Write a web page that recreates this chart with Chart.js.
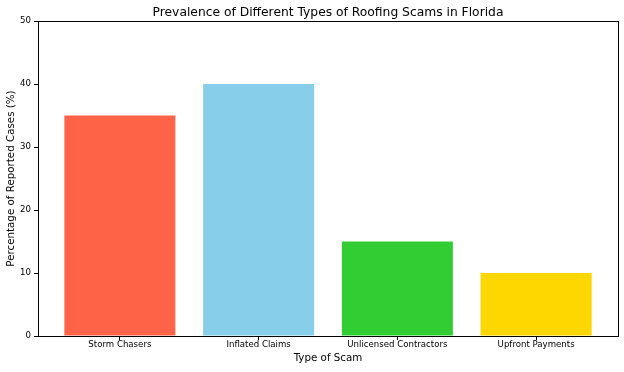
<!DOCTYPE html>
<html>
<head>
<meta charset="utf-8">
<script src="https://cdn.jsdelivr.net/npm/chart.js@4"></script>
<style>
  html, body { margin: 0; padding: 0; background: #fff; }
  #wrap { width: 624px; height: 372px; }
</style>
</head>
<body>
<div id="wrap"><canvas id="chart"></canvas></div>
<script>
// Data
const scamTypes = ["Storm Chasers", "Inflated Claims", "Unlicensed Contractors", "Upfront Payments"];
const percentages = [35, 40, 15, 10];
const barColors = ["#FF6347", "#87CEEB", "#32CD32", "#FFD700"];
const yTicks = [0, 10, 20, 30, 40, 50];

const font = "'DejaVu Sans', sans-serif";

// Draw the box around the plot area, like matplotlib's spines
const framePlugin = {
    id: "frame",
    afterDatasetsDraw(chart) {
        const a = chart.chartArea;
        const ctx = chart.ctx;
        ctx.save();
        ctx.strokeStyle = "#000";
        ctx.lineWidth = 1;
        ctx.strokeRect(Math.round(a.left) + 0.5, Math.round(a.top) + 0.5,
            Math.round(a.right - a.left), Math.round(a.bottom - a.top));
        ctx.restore();
    }
};

new Chart(document.getElementById("chart"), {
    type: "bar",
    data: {
        datasets: [{
            data: percentages.map((v, i) => ({ x: i, y: v })),
            backgroundColor: barColors,
            borderWidth: 0,
            barPercentage: 0.8,
            categoryPercentage: 1.0
        }]
    },
    options: {
        responsive: true,
        maintainAspectRatio: false,
        animation: false,
        layout: { padding: { left: 0, right: 6, top: 0, bottom: 0 } },
        plugins: {
            legend: { display: false },
            tooltip: { enabled: false },
            title: {
                display: true,
                fullSize: false,
                text: "Prevalence of Different Types of Roofing Scams in Florida",
                color: "#000",
                font: { family: font, size: 12.3, weight: "normal" },
                padding: { top: 5, bottom: 1.3 }
            }
        },
        scales: {
            x: {
                type: "linear",
                offset: false,
                min: -0.59,
                max: 3.59,
                afterBuildTicks: scale => { scale.ticks = scamTypes.map((c, i) => ({ value: i })); },
                afterFit: scale => { scale.height = 36; },
                ticks: {
                    callback: v => scamTypes[v],
                    color: "#000",
                    font: { family: font, size: 8.6 },
                    padding: 0,
                    maxRotation: 0,
                    autoSkip: false
                },
                grid: { offset: false, drawOnChartArea: false, drawTicks: true, tickLength: 4, color: "#000" },
                border: { display: false },
                title: {
                    display: true,
                    text: "Type of Scam",
                    color: "#000",
                    font: { family: font, size: 10.3 },
                    padding: { top: 2, bottom: 7 }
                }
            },
            y: {
                min: 0,
                max: 50,
                afterBuildTicks: scale => { scale.ticks = yTicks.map(v => ({ value: v })); },
                afterFit: scale => { scale.width = 38; },
                ticks: {
                    color: "#000",
                    font: { family: font, size: 8.6 },
                    padding: 3
                },
                grid: { drawOnChartArea: false, drawTicks: true, tickLength: 4, color: "#000" },
                border: { display: false },
                title: {
                    display: true,
                    text: "Percentage of Reported Cases (%)",
                    color: "#000",
                    font: { family: font, size: 10.3 },
                    padding: { top: 5, bottom: 2 }
                }
            }
        }
    },
    plugins: [framePlugin]
});
</script>
</body>
</html>
